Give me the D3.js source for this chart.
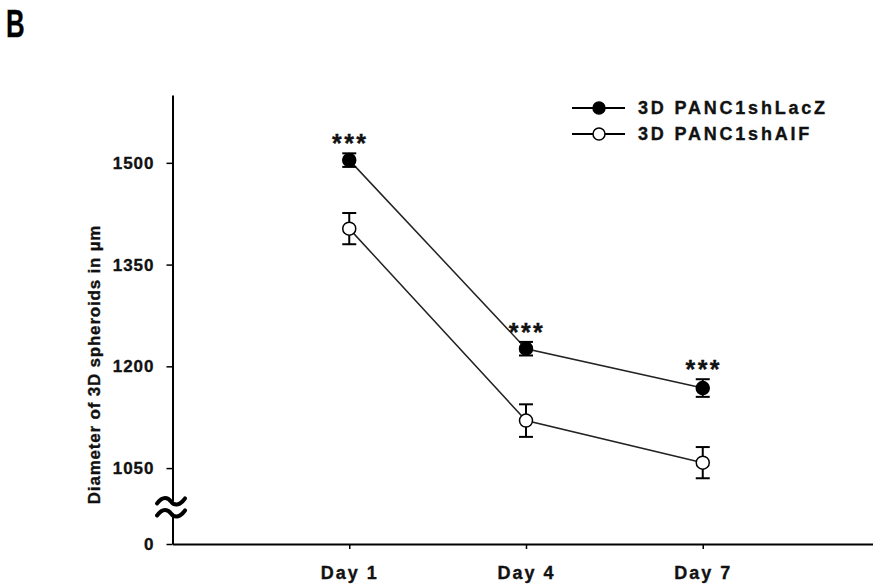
<!DOCTYPE html>
<html>
<head>
<meta charset="utf-8">
<script src="https://cdn.jsdelivr.net/npm/d3@7"></script>
<style>
  body { margin: 0; background: #fff; }
  svg { display: block; font-family: "Liberation Sans", Arial, sans-serif; font-weight: bold; }
  svg text { stroke: #111; stroke-width: 0.35px; }
</style>
</head>
<body>
<svg id="chart" width="873" height="588"></svg>
<script>
const days = [1, 4, 7];
const dayLabels = ["Day 1", "Day 4", "Day 7"];
const lacZMean = [1504, 1226, 1168];
const lacZErr = [10, 10, 13];
const aifMean = [1403, 1120, 1058];
const aifErr = [23, 24, 23];
const sigLabels = ["***", "***", "***"];
const yTicks = [0, 1050, 1200, 1350, 1500];
const seriesNames = ["3D PANC1shLacZ", "3D PANC1shAIF"];
const breakValue = 870;

const svg = d3.select("#chart");

// broken y axis: 0..1000 squeezed, 1000..1600 linear
const y = d3.scaleLinear()
  .domain([0, 1000, 1600])
  .range([544, 502, 95]);

const x = d3.scaleLinear()
  .domain([-2, 10])
  .range([172.5, 879.5]);

// panel letter
svg.append("text")
  .attr("transform", "translate(6,37) scale(0.68,1)")
  .attr("font-size", "38px")
  .attr("fill", "#000")
  .text("B");

// axes
const yAxis = svg.append("g")
  .attr("transform", "translate(172.5,0)")
  .call(d3.axisLeft(y).tickValues(yTicks).tickSize(6).tickSizeOuter(0).tickPadding(12).tickFormat(d3.format("d")));

const xAxis = svg.append("g")
  .attr("transform", "translate(0,544)")
  .call(d3.axisBottom(x).tickValues(days).tickSize(5).tickSizeOuter(0).tickPadding(17)
    .tickFormat((d, i) => dayLabels[i]));

[yAxis, xAxis].forEach(a => {
  a.select(".domain").attr("stroke", "#000").attr("stroke-width", 2);
  a.selectAll(".tick line").attr("stroke", "#000").attr("stroke-width", 1.5);
  a.selectAll("text").attr("fill", "#111").attr("font-family", "Liberation Sans, Arial, sans-serif")
    .attr("font-weight", "bold");
});
yAxis.selectAll("text").attr("font-size", "17px").style("letter-spacing", "1px");
xAxis.selectAll("text").attr("font-size", "18px").style("letter-spacing", "2px");

// axis break
const by = y(breakValue);
svg.append("rect")
  .attr("x", 160).attr("y", by - 6).attr("width", 24).attr("height", 12)
  .attr("fill", "#fff");
[-6, 6].forEach(off => {
  const cy = by + off;
  svg.append("path")
    .attr("d", `M157,${cy + 2} C163,${cy - 6} 168,${cy - 4} 171,${cy} S179,${cy + 5} 185,${cy - 3}`)
    .attr("fill", "none")
    .attr("stroke", "#000")
    .attr("stroke-width", 4)
    .attr("stroke-linecap", "round");
});

// y axis title
svg.append("text")
  .attr("transform", `translate(100,${(y(1600) + y(0)) / 2 + 45}) rotate(-90)`)
  .attr("text-anchor", "middle")
  .attr("font-size", "17px")
  .attr("fill", "#111")
  .style("letter-spacing", "0.8px")
  .text("Diameter of 3D spheroids in µm");

const series = [
  { name: seriesNames[0], mean: lacZMean, err: lacZErr, filled: true },
  { name: seriesNames[1], mean: aifMean, err: aifErr, filled: false }
];

const line = d3.line()
  .x(d => x(d.day))
  .y(d => y(d.mean));

series.forEach(s => {
  const pts = days.map((day, i) => ({ day, mean: s.mean[i], err: s.err[i] }));
  const g = svg.append("g");

  g.append("path")
    .datum(pts)
    .attr("d", line)
    .attr("fill", "none")
    .attr("stroke", "#222")
    .attr("stroke-width", 1.5);

  const eb = g.selectAll(".eb").data(pts).enter().append("g");
  eb.append("line")
    .attr("x1", d => x(d.day)).attr("x2", d => x(d.day))
    .attr("y1", d => y(d.mean + d.err)).attr("y2", d => y(d.mean - d.err))
    .attr("stroke", "#000").attr("stroke-width", 2);
  [1, -1].forEach(sign => {
    eb.append("line")
      .attr("x1", d => x(d.day) - 7).attr("x2", d => x(d.day) + 7)
      .attr("y1", d => y(d.mean + sign * d.err)).attr("y2", d => y(d.mean + sign * d.err))
      .attr("stroke", "#000").attr("stroke-width", 2);
  });

  g.selectAll("circle").data(pts).enter().append("circle")
    .attr("cx", d => x(d.day))
    .attr("cy", d => y(d.mean))
    .attr("r", 6.5)
    .attr("fill", s.filled ? "#000" : "#fff")
    .attr("stroke", "#000")
    .attr("stroke-width", 1.5);
});

// significance stars over the LacZ points
svg.selectAll(".sig")
  .data(days)
  .enter().append("text")
  .attr("x", d => x(d) + 1)
  .attr("y", (d, i) => y(lacZMean[i] + lacZErr[i]) - 1)
  .attr("text-anchor", "middle")
  .attr("font-size", "25px")
  .attr("fill", "#111")
  .style("letter-spacing", "2.5px")
  .text((d, i) => sigLabels[i]);

// legend
const legend = svg.append("g").attr("transform", "translate(572,108)");
series.forEach((s, i) => {
  const row = legend.append("g").attr("transform", `translate(0,${i * 26})`);
  row.append("line")
    .attr("x1", 0).attr("x2", 53).attr("y1", 0).attr("y2", 0)
    .attr("stroke", "#000").attr("stroke-width", 2);
  row.append("circle")
    .attr("cx", 27).attr("cy", 0).attr("r", 6)
    .attr("fill", s.filled ? "#000" : "#fff")
    .attr("stroke", "#000").attr("stroke-width", 1.5);
  row.append("text")
    .attr("x", 66).attr("y", 0).attr("dy", "0.36em")
    .attr("font-size", "18px")
    .attr("fill", "#111")
    .style("letter-spacing", "2.8px")
    .text(s.name);
});
</script>
</body>
</html>
